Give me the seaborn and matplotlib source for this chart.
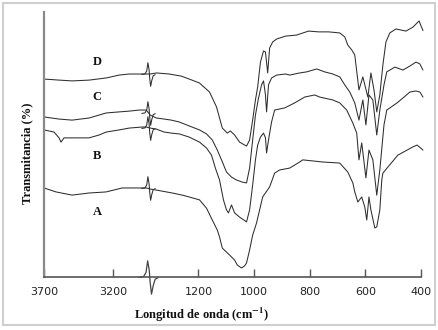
import numpy as np
import pandas as pd
import matplotlib
matplotlib.use("Agg")
import matplotlib.pyplot as plt
import seaborn as sns
from matplotlib.path import Path
from matplotlib.markers import MarkerStyle
from matplotlib.patches import Rectangle

# --- data (wavenumber cm-1, transmittance %) ---
wn_A = [3700, 3613, 3497, 3374, 3251, 3135, 2990, 2961,
        1373, 1351, 1294, 1258, 1233, 1196, 1171, 1150, 1132, 1124, 1114, 1099, 1088,
        1070, 1060, 1045, 1034, 1027, 1016, 1005, 991, 969, 944, 926, 908, 872, 836,
        825, 753, 692, 663, 645, 638, 627, 613, 602, 595, 587, 580, 566, 559, 548,
        541, 537, 519, 483, 429, 414, 393]
t_A = [33.6, 32.1, 30.9, 31.7, 32.1, 33.6, 33.6, 33.6,
       33.2, 32.8, 31.7, 30.9, 30.2, 29.1, 26.0, 21.5, 17.7, 15.1, 10.9, 9.4, 8.3,
       6.4, 4.5, 3.4, 4.2, 5.3, 10.2, 15.8, 20.4, 30.2, 34.0, 39.2, 40.4, 41.1, 43.4,
       44.2, 43.4, 43.0, 39.6, 35.5, 32.1, 28.3, 30.2, 26.4, 21.5, 30.2, 25.3, 18.5, 18.9, 25.3,
       36.6, 39.2, 41.5, 46.0, 49.1, 49.8, 47.9]

wn_B = [3700, 3628, 3591, 3577, 3555, 3497, 3374, 3301, 3251, 3157, 3084, 2990, 2961,
        1373, 1351, 1323, 1297, 1269, 1233, 1196, 1171, 1153, 1139, 1124, 1110, 1099,
        1092, 1081, 1070, 1052, 1027, 1016, 1005, 995, 987, 977, 966, 959, 955, 948,
        937, 926, 908, 890, 854, 818, 782, 764, 717, 692, 667, 645, 631, 623, 613, 598,
        587, 573, 559, 548, 533, 523, 486, 461, 440, 418, 404, 393]
t_B = [55.5, 54.7, 52.5, 50.9, 52.5, 52.5, 52.5, 53.6, 54.7, 55.5, 56.2, 56.6, 56.6,
       56.2, 55.8, 54.7, 54.3, 54.0, 52.8, 50.9, 48.7, 46.0, 41.1, 36.6, 29.1, 25.3,
       24.2, 27.2, 24.2, 22.6, 20.8, 25.3, 34.7, 44.2, 49.8, 52.8, 54.3, 52.5, 46.8, 51.7,
       58.5, 63.0, 63.4, 63.8, 65.7, 67.9, 68.7, 67.9, 66.8, 65.7, 63.0, 58.1, 54.3, 44.2, 50.6, 37.4,
       47.9, 44.2, 30.9, 40.4, 57.4, 63.0, 65.7, 67.9, 69.8, 70.2, 69.8, 67.9]

wn_C = [3700, 3591, 3497, 3374, 3251, 3157, 3084, 3012, 2961,
        1373, 1351, 1323, 1297, 1269, 1233, 1196, 1171, 1150, 1132, 1117, 1099, 1081,
        1063, 1042, 1027, 1016, 1005, 995, 984, 973, 966, 959, 955, 948, 937, 919, 887,
        872, 836, 811, 775, 746, 717, 692, 674, 656, 638, 623, 609, 598, 587, 573, 559,
        548, 533, 523, 494, 465, 440, 418, 404, 393]
t_C = [60.4, 59.6, 59.2, 60.0, 61.9, 62.3, 62.6, 63.0, 63.0,
       61.1, 60.0, 59.6, 59.2, 58.5, 57.0, 55.5, 54.0, 51.7, 47.9, 44.2, 39.6, 37.7,
       36.6, 35.8, 35.5, 41.1, 51.7, 61.1, 67.5, 72.5, 74.0, 68.7, 62.3, 72.5, 75.1, 76.2, 76.6,
       76.2, 77.0, 77.4, 78.5, 77.4, 76.6, 75.5, 72.5, 69.8, 65.7, 59.2, 66.8, 57.4, 68.7, 66.8, 53.6,
       63.0, 72.5, 77.4, 79.2, 78.1, 79.6, 81.1, 80.4, 78.1]

wn_D = [3700, 3591, 3497, 3374, 3251, 3157, 3084, 2961,
        1373, 1351, 1305, 1261, 1233, 1196, 1160, 1135, 1114, 1096, 1085, 1070, 1052,
        1027, 1016, 1005, 995, 987, 977, 966, 959, 951, 944, 933, 919, 887, 847, 804,
        768, 732, 692, 674, 663, 649, 638, 623, 609, 591, 580, 569, 559, 548, 537, 526,
        512, 490, 454, 429, 407, 393]
t_D = [74.7, 74.3, 74.0, 74.3, 75.1, 76.2, 76.6, 76.6,
       76.6, 77.0, 76.6, 75.8, 74.7, 73.2, 69.8, 64.2, 56.2, 54.3, 55.1, 53.6, 50.9,
       49.4, 51.7, 59.2, 66.8, 71.7, 81.1, 85.3, 84.9, 77.0, 86.4, 88.7, 89.8, 90.9, 91.3, 92.8,
       92.5, 92.5, 92.1, 90.6, 87.5, 85.7, 83.8, 70.6, 75.5, 67.9, 77.0, 70.6, 62.3, 68.7, 80.0, 88.7,
       92.1, 93.6, 92.8, 94.3, 96.6, 93.0]

samples = ["A", "B", "C", "D"]
wavenumbers = [wn_A, wn_B, wn_C, wn_D]
transmittance = [t_A, t_B, t_C, t_D]
label_pos = {"A": (3316, 24.5), "B": (3316, 45.7), "C": (3316, 67.9), "D": (3316, 81.1)}
xticks = [3700, 3200, 1200, 1000, 800, 600, 400]

# eje roto: 3700-2961 comprimido, 1373-400 ampliado
BREAK_LO, BREAK_HI = 1373, 2961


def fwd(x):
    x = np.asarray(x, dtype=float)
    return np.where(x <= BREAK_LO, (x - 400) * 0.2775,
                    np.where(x >= BREAK_HI, 274 + (x - BREAK_HI) * 0.138,
                             270 + (x - BREAK_LO) * 4 / (BREAK_HI - BREAK_LO)))


def inv(p):
    p = np.asarray(p, dtype=float)
    return np.where(p <= 270, 400 + p / 0.2775,
                    np.where(p >= 274, BREAK_HI + (p - 274) / 0.138,
                             BREAK_LO + (p - 270) * (BREAK_HI - BREAK_LO) / 4))


rows = []
for s, xs, ys in zip(samples, wavenumbers, transmittance):
    for x, y in zip(xs, ys):
        rows.append({"wn": x, "T": y, "muestra": s})
df = pd.DataFrame(rows)

sns.set_theme(style="ticks")
plt.rcParams["font.family"] = ["Liberation Serif", "DejaVu Serif"]
plt.rcParams["mathtext.fontset"] = "stix"

fig = plt.figure(figsize=(4.39, 3.30), dpi=100)
ax = fig.add_axes([44 / 439, 1 - 277 / 330, 377 / 439, 265 / 330])
ax.set_xscale("function", functions=(fwd, inv))

sns.lineplot(data=df, x="wn", y="T", hue="muestra", units="muestra", estimator=None,
             sort=False, palette={s: "#2e2e2e" for s in samples}, linewidth=0.75,
             legend=False, ax=ax)
for line in ax.get_lines():
    line.set_clip_on(False)

ax.set_xlim(3700, 400)
ax.set_ylim(0, 100)
ax.set_xticks(xticks)
ax.set_xticklabels([str(t) for t in xticks], family="DejaVu Sans", fontsize=8)
ax.xaxis.set_minor_locator(matplotlib.ticker.NullLocator())
ax.set_yticks([])
ax.tick_params(axis="x", direction="in", length=6, width=1, color="#555555", pad=7,
               labelcolor="#222222")

for side in ["top", "right"]:
    ax.spines[side].set_visible(False)
ax.spines["left"].set_color("#8a8a8a")
ax.spines["left"].set_linewidth(1.6)
ax.spines["bottom"].set_color("#555555")
ax.spines["bottom"].set_linewidth(1.2)

# marca de corte (zigzag) en cada espectro y en el eje
zig = Path([(-6, 0), (-3, 0.5), (-1.5, 3), (-0.5, 10), (0.5, 4), (1.0, -3),
            (1.8, -10), (2.8, -5), (4, -1), (6, 0)])
mk = MarkerStyle(zig)
xb = float(inv(272))
for s, xs, ys in zip(samples, wavenumbers, transmittance):
    yb = (ys[xs.index(BREAK_HI)] + ys[xs.index(BREAK_LO)]) / 2
    ax.plot([xb], [yb], linestyle="none", marker=mk, ms=17, mfc="none",
            mec="#2e2e2e", mew=0.75, clip_on=False)
ax.plot([xb], [0], linestyle="none", marker=mk, ms=24, mfc="none",
        mec="#444444", mew=0.9, clip_on=False)

for s in samples:
    x, y = label_pos[s]
    ax.text(x, y, s, ha="center", va="center", fontsize=9, fontweight="bold", color="#111111")

ax.set_xlabel("Longitud de onda (cm$^{\\mathbf{-1}}$)", fontsize=9, fontweight="bold",
              color="#111111")
ax.xaxis.set_label_coords(158 / 377, -29 / 265)
ax.set_ylabel("Transmitancia (%)", fontsize=9, fontweight="bold", color="#111111")
ax.yaxis.set_label_coords(-11 / 377, 0.466)

fig.add_artist(Rectangle((3 / 439, 5 / 330), 432 / 439, 322 / 330, transform=fig.transFigure,
                         fill=False, ec="#cfcfcf", lw=1.5))

plt.savefig("out.png", dpi=100)
